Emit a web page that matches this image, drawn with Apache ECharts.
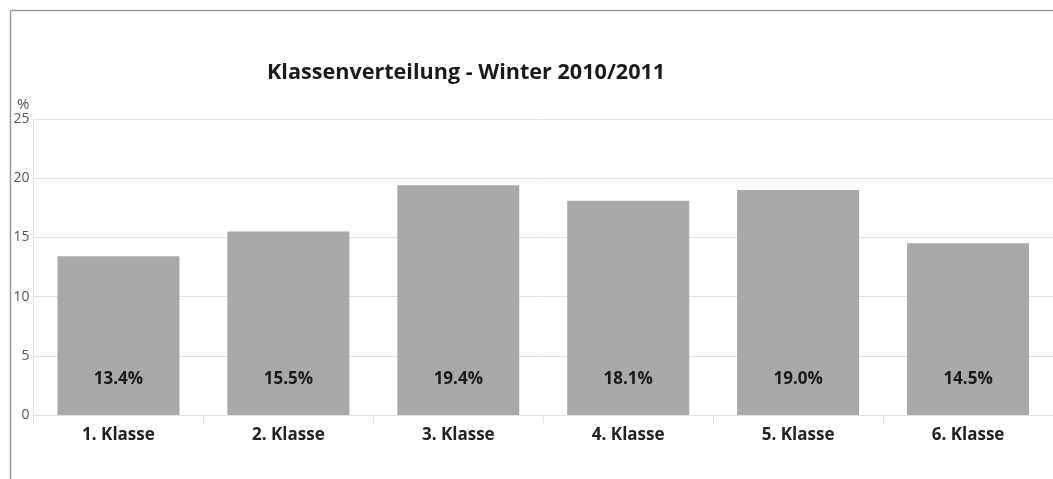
<!DOCTYPE html>
<html>
<head>
<meta charset="utf-8">
<script src="https://cdn.jsdelivr.net/npm/echarts@6/dist/echarts.min.js"></script>
<style>
html,body{margin:0;padding:0;background:#fff;}
#c{width:1053px;height:479px;}
</style>
</head>
<body>
<div id="c"></div>
<script>
const categories = ['1. Klasse', '2. Klasse', '3. Klasse', '4. Klasse', '5. Klasse', '6. Klasse'];
const values = [13.4, 15.5, 19.4, 18.1, 19.0, 14.5];
const yTicks = [0, 5, 10, 15, 20, 25];
const titleText = 'Klassenverteilung - Winter 2010/2011';
const yName = '%';

const chart = echarts.init(document.getElementById('c'), null, {renderer: 'canvas'});
chart.setOption({
  backgroundColor: '#fff',
  animation: false,
  title: {
    text: titleText,
    left: 262,
    top: 57,
    textStyle: {fontFamily: 'Open Sans', fontWeight: 'bold', fontSize: 21.6, color: '#1a1a1a'}
  },
  graphic: [
    {type: 'line', shape: {x1: 10.5, y1: 10.5, x2: 1053, y2: 10.5}, style: {stroke: '#9a9a9a', lineWidth: 1.5}},
    {type: 'line', shape: {x1: 10.5, y1: 10.5, x2: 10.5, y2: 479}, style: {stroke: '#9a9a9a', lineWidth: 1.5}}
  ],
  grid: {left: 33.5, right: -6.5, top: 119, bottom: 64, containLabel: false},
  xAxis: {
    type: 'category',
    data: categories,
    boundaryGap: true,
    axisLine: {show: true, lineStyle: {color: '#e2e2e2'}},
    axisTick: {show: true, length: 8, inside: false, lineStyle: {color: '#e2e2e2'}},
    axisLabel: {fontFamily: 'Open Sans', fontWeight: 'bold', fontSize: 17, color: '#222', margin: 12}
  },
  yAxis: {
    type: 'value',
    min: yTicks[0],
    max: yTicks[yTicks.length - 1],
    interval: 5,
    name: yName,
    nameLocation: 'end',
    nameGap: 7,
    nameTextStyle: {fontFamily: 'Open Sans', fontSize: 15, color: '#555', align: 'right', padding: [0, 4, 0, 0]},
    axisLine: {show: true, lineStyle: {color: '#e8e8e8'}},
    axisTick: {show: false},
    axisLabel: {fontFamily: 'Open Sans', fontSize: 14, color: '#555', margin: 4},
    splitLine: {show: true, lineStyle: {color: '#e2e2e2'}}
  },
  series: [{
    type: 'bar',
    data: values,
    barWidth: 122,
    itemStyle: {color: '#a9a9a9'},
    label: {
      show: true,
      position: 'insideBottom',
      distance: 27,
      formatter: p => p.value.toFixed(1) + '%',
      fontFamily: 'Open Sans',
      fontWeight: 'bold',
      fontSize: 17,
      color: '#1a1a1a'
    }
  }]
});
</script>
</body>
</html>
